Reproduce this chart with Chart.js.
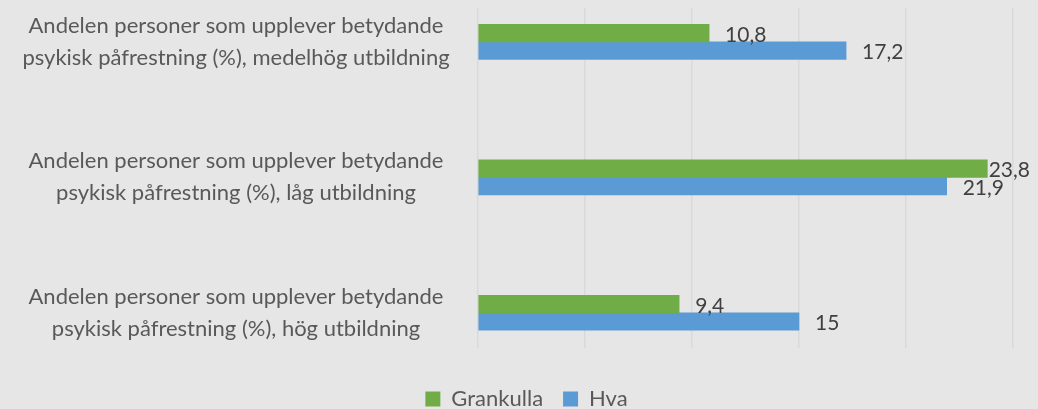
<!DOCTYPE html>
<html>
<head>
<meta charset="utf-8">
<script src="https://cdn.jsdelivr.net/npm/chart.js@4/dist/chart.umd.min.js"></script>
<style>
  html, body { margin: 0; padding: 0; background: #e7e6e6; }
  #wrap { width: 1038px; height: 409px; position: relative; }
</style>
</head>
<body>
<div id="wrap"><canvas id="chart"></canvas></div>
<script>
// Kategorier (uppifrån och ned)
const categories = [
    ['Andelen personer som upplever betydande', 'psykisk påfrestning (%), medelhög utbildning'],
    ['Andelen personer som upplever betydande', 'psykisk påfrestning (%), låg utbildning'],
    ['Andelen personer som upplever betydande', 'psykisk påfrestning (%), hög utbildning']
];
const grankulla = [10.8, 23.8, 9.4];
const hva = [17.2, 21.9, 15];
const xTicks = [0, 5, 10, 15, 20, 25];

const labelFont = '22px Lato';
const labelColor = '#595959';

// mät bredaste raden så att etiketterna hamnar centrerade kring x=236
const mctx = document.createElement('canvas').getContext('2d');
mctx.font = labelFont;
let widest = 0;
categories.forEach(c => c.forEach(line => { widest = Math.max(widest, mctx.measureText(line).width); }));
const plotLeft = 478;
const tickPad = plotLeft - 236 - widest / 2;

const toPoints = (vals) => vals.map((v, i) => ({ x: v, y: i }));

// datalabels ritas för hand (inget plugin tillgängligt)
const valueLabels = {
    id: 'valueLabels',
    afterDatasetsDraw(chart) {
        const ctx = chart.ctx;
        ctx.save();
        ctx.font = '21px Lato';
        ctx.fillStyle = '#404040';
        ctx.textBaseline = 'middle';
        ctx.textAlign = 'left';
        chart.data.datasets.forEach((ds, di) => {
            const meta = chart.getDatasetMeta(di);
            meta.data.forEach((bar, i) => {
                const txt = String(ds.data[i].x).replace('.', ',');
                const w = ctx.measureText(txt).width;
                let x = bar.x + 16;
                if (x + w > chart.width - 8) x = chart.width - 8 - w;
                ctx.fillText(txt, x, bar.y + 2);
            });
        });
        ctx.restore();
    }
};

// flytta legenden lite åt höger, som i originalet
const legendShift = {
    id: 'legendShift',
    afterLayout(chart) {
        if (chart.legend) {
            chart.legend.left += 20;
            chart.legend.right += 20;
        }
    }
};

const ctx = document.getElementById('chart').getContext('2d');
new Chart(ctx, {
    type: 'bar',
    data: {
        datasets: [
            { label: 'Grankulla', data: toPoints(grankulla), backgroundColor: '#70ad47', barThickness: 17.5 },
            { label: 'Hva', data: toPoints(hva), backgroundColor: '#5b9bd5', barThickness: 17.5 }
        ]
    },
    options: {
        indexAxis: 'y',
        responsive: true,
        maintainAspectRatio: false,
        animation: false,
        layout: { padding: { top: 8, right: 25, left: 0, bottom: -11 } },
        scales: {
            x: {
                min: 0,
                max: 25,
                afterBuildTicks: (scale) => { scale.ticks = xTicks.map(v => ({ value: v })); },
                ticks: { display: false },
                grid: { color: '#d9d9d9', lineWidth: 1.5, drawTicks: false },
                border: { display: false },
                afterFit: (scale) => { scale.height = 20; }
            },
            y: {
                type: 'linear',
                reverse: true,
                offset: false,
                min: -0.25,
                max: 2.26,
                afterBuildTicks: (scale) => { scale.ticks = categories.map((c, i) => ({ value: i })); },
                ticks: {
                    callback: (v) => categories[v],
                    crossAlign: 'center',
                    padding: tickPad,
                    color: labelColor,
                    font: { family: 'Lato', size: 22, lineHeight: 1.45 }
                },
                grid: { display: false, drawTicks: false },
                border: { display: false },
                afterFit: (scale) => {
                    scale.width = plotLeft;
                    scale.paddingTop = 0;
                    scale.paddingBottom = 0;
                }
            }
        },
        plugins: {
            legend: {
                position: 'bottom',
                labels: {
                    boxWidth: 15,
                    boxHeight: 15,
                    padding: 20,
                    color: labelColor,
                    font: { family: 'Lato', size: 22 }
                }
            },
            tooltip: { enabled: false }
        }
    },
    plugins: [valueLabels, legendShift]
});
</script>
</body>
</html>
